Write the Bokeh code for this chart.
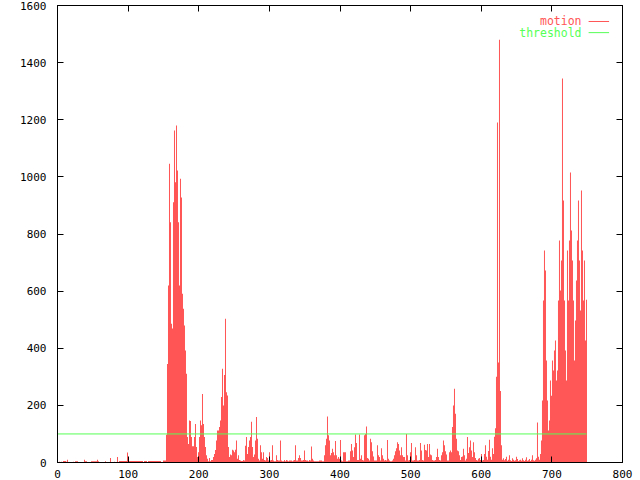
import numpy as np
from bokeh.plotting import figure
from bokeh.models import (LinearAxis, SingleIntervalTicker, Label, Arrow, Range1d,
                          CustomJSTickFormatter)
from bokeh.embed import file_html
from bokeh.resources import INLINE

# motion values (frames 0..749)
motion_start = [3, 2, 3, 1, 3, 2, 5, 5, 5, 3, 10, 2, 2, 1, 2, 2, 3, 2, 4, 4, 4,
                2, 1, 2, 2, 1, 2, 10, 4, 4, 2, 2, 1, 2, 4, 4, 4, 4, 4, 4, 10, 4,
                2, 2, 1, 2, 2, 2, 4, 2, 2, 1, 2, 16, 2, 2, 2, 3, 2, 2, 19, 2,
                5, 5, 5, 5, 5, 5, 5, 5, 35, 5, 5, 5, 5, 5, 5, 5, 5, 5, 5, 5, 5,
                5, 5, 5, 2, 5, 5, 5, 2, 5, 5, 5, 5, 5, 5, 5, 5, 5, 5, 5, 5, 5,
                2, 2, 7, 7, 7]
motion_peak1 = [97, 345, 620, 1046, 841, 486, 469, 911, 1162, 981, 1180, 1022,
                841, 620, 993, 928, 591, 538, 480, 392, 311, 89, 65, 147]
motion_mid1 = [145, 89, 57, 57, 89, 135, 54, 19, 36, 89, 147, 130, 240, 135,
               89, 54, 25, 13, 4, 16, 4, 9, 9, 19, 30, 44, 77, 112, 112, 124,
               147, 229, 328, 200, 306, 503, 246, 235, 54, 19, 28, 25, 45, 42,
               36, 45, 77, 13, 25, 9, 7, 5, 5, 9, 7, 59, 89, 30, 54, 77, 89,
               143, 54, 19, 28]
motion_mid2 = [77, 159, 83, 13, 7, 60, 36, 13, 36, 9, 7, 19, 16, 7, 36, 7, 9,
               60, 7, 4, 4, 25, 9, 7, 7, 77, 7, 4, 4, 9, 4, 9, 7, 4, 7, 7, 7,
               4, 7, 9, 60, 7, 7, 16, 25, 16, 7, 7, 9, 42, 9, 7, 7, 4, 9, 7,
               56, 13, 7, 4, 4, 4, 4, 4, 7, 7, 7, 4, 4, 25, 60, 83, 161, 95,
               77, 25, 33, 48, 36, 25]
motion_mid3 = [75, 25, 13, 19, 13, 79, 7, 4, 36, 36, 36, 4, 4, 7, 7, 39, 65,
               42, 19, 53, 98, 68, 9, 9, 98, 13, 25, 9, 7, 95, 100, 126, 16,
               13, 7, 83, 71, 39, 21, 7, 7, 7, 60, 25, 19, 7, 50, 25, 13, 7,
               9, 7, 79, 13, 7, 4, 4, 7, 13, 25, 39, 50, 71, 65, 42, 25, 53,
               25, 19, 19, 7, 100, 25, 7, 9]
motion_mid4 = [36, 68, 7, 7, 9, 53, 25, 7, 7, 9, 68, 42, 9, 7, 62, 44, 42, 65,
               19, 65, 28, 25, 9, 7, 7, 9, 19, 48, 19, 9, 7, 25, 36, 77, 60,
               39, 28, 7, 7, 36, 42, 36, 124, 200, 258, 171, 83, 42, 39, 25,
               9, 19, 21, 48, 25, 7, 13, 89, 33, 53, 77, 42, 19, 71, 36, 16,
               9, 7, 13, 16, 9, 30, 7, 9]
motion_end = [30, 60, 20, 10, 40, 80, 20, 10, 50, 30, 90, 120,
              300, 1190, 350, 1480, 250, 60,
              10, 15, 8, 12, 20, 6, 10, 25, 8, 5, 15, 10, 6, 8, 20, 12, 5, 8,
              10, 6, 15, 8, 5, 10, 18, 6, 8, 12, 5, 10, 25, 8, 6, 10, 15,
              140, 20, 10, 30,
              77, 217, 567, 742, 672, 357, 217, 112, 147, 287, 234, 357, 322,
              392, 427, 287, 322, 567, 777, 602, 707, 1344, 917, 567, 392, 287,
              742, 567, 777, 1015, 812, 707, 567, 357, 497, 637, 777, 917, 707,
              532, 952, 742, 567, 707, 427, 570]
threshold = 100
first_frame, last_frame = 0, 749
x_ticks_step, y_ticks_step = 100, 200

motion = np.array(motion_start + motion_peak1 + motion_mid1 + motion_mid2 +
                  motion_mid3 + motion_mid4 + motion_end, dtype=float)
frames = np.linspace(first_frame, last_frame, len(motion))
step = frames[1] - frames[0]

RED = "#ff5555"
GREEN = "#55ff55"
FONT = "DejaVu Sans Mono"

p = figure(width=640, height=480, output_backend="svg", toolbar_location=None,
           x_range=Range1d(0, 800), y_range=Range1d(0, 1600),
           min_border_left=57, min_border_right=18, min_border_top=5,
           min_border_bottom=18)
p.grid.visible = False
p.outline_line_color = "black"
p.outline_line_width = 1
p.background_fill_color = "white"
p.border_fill_color = "white"

p.vbar(x=frames, top=motion, bottom=0, width=step, fill_color=RED,
       line_color=None)
p.line([first_frame, last_frame], [threshold, threshold], line_color=GREEN,
       line_width=1)

def style(ax):
    ax.axis_line_color = "black"
    ax.major_tick_in = 6
    ax.major_tick_out = 0
    ax.minor_tick_line_color = None
    ax.major_tick_line_color = "black"
    ax.major_label_text_font = FONT
    ax.major_label_text_color = "black"
    ax.major_label_text_font_size = "11px"
    ax.major_label_standoff = 7

p.xaxis.ticker = SingleIntervalTicker(interval=x_ticks_step)
p.yaxis.ticker = SingleIntervalTicker(interval=y_ticks_step)
style(p.xaxis[0])
style(p.yaxis[0])
p.xaxis[0].major_label_standoff = 3

blank = CustomJSTickFormatter(code="return ''")
top_ax = LinearAxis(ticker=SingleIntervalTicker(interval=x_ticks_step), formatter=blank)
right_ax = LinearAxis(ticker=SingleIntervalTicker(interval=y_ticks_step), formatter=blank)
style(top_ax)
style(right_ax)
top_ax.major_label_standoff = 0
right_ax.major_label_standoff = 0
p.add_layout(top_ax, "above")
p.add_layout(right_ax, "right")

# manual gnuplot-style key (text, then sample line)
for name, color, yk in [("motion", RED, 1544), ("threshold", GREEN, 1505)]:
    p.add_layout(Label(x=742, y=yk, text=name, text_color=color,
                       text_font=FONT, text_font_size="11.5px",
                       text_align="right", text_baseline="middle"))
    p.add_layout(Arrow(x_start=752, y_start=yk, x_end=781, y_end=yk,
                       end=None, line_color=color, line_width=1))

open("out.html", "w").write(file_html(p, INLINE))
